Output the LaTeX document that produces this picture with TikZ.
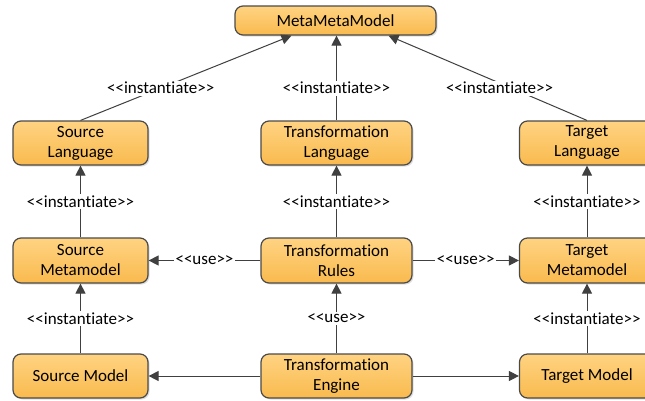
\documentclass[tikz,border=0pt]{standalone}
\usepackage{fontspec}
\setmainfont{Carlito}[Ligatures={TeXOff,NoCommon}]
\usetikzlibrary{arrows.meta,shadows}
\definecolor{boxline}{HTML}{4A4A4A}
\definecolor{boxtop}{HTML}{FFD382}
\definecolor{boxbot}{HTML}{F9BA4E}
\definecolor{lineclr}{HTML}{404040}
\begin{document}
\begin{tikzpicture}[x=1pt,y=-1pt,
  box/.style={draw=boxline, line width=1.2pt, rounded corners=8pt,
    top color=boxtop, bottom color=boxbot, align=center,
    font=\fontsize{17}{20}\selectfont, inner sep=0pt,
    drop shadow={shadow xshift=1.5pt, shadow yshift=-1.5pt, opacity=0.25}},
  conn/.style={draw=lineclr, line width=1pt, -{Triangle[length=10pt,width=10pt]}},
  lab/.style={fill=white, font=\fontsize{17}{19}\selectfont, inner sep=1.5pt}]
\clip (0,0) rectangle (645,400);
\fill[white] (0,0) rectangle (645,400);
\node[box, minimum width=201pt, minimum height=29pt] (mmm) at (335.5,20.5) {MetaMetaModel};
\node[box, minimum width=135pt, minimum height=44pt] (sl) at (80.5,143) {Source\\Language};
\node[box, minimum width=151pt, minimum height=44pt] (tl) at (336.5,143) {Transformation\\Language};
\node[box, minimum width=135pt, minimum height=44pt] (gl) at (587,143) {Target\\Language};
\node[box, minimum width=135pt, minimum height=45pt] (sm) at (80.5,260.5) {Source\\Metamodel};
\node[box, minimum width=151pt, minimum height=45pt] (tr) at (336.5,260.5) {Transformation\\Rules};
\node[box, minimum width=135pt, minimum height=45pt] (gm) at (587,260.5) {Target\\Metamodel};
\node[box, minimum width=135pt, minimum height=44pt] (so) at (80.5,376) {Source Model};
\node[box, minimum width=151pt, minimum height=44pt] (te) at (336.5,376) {Transformation\\Engine};
\node[box, minimum width=135pt, minimum height=44pt] (go) at (587,376) {Target Model};
\coordinate (mL) at ([xshift=-44pt]mmm.south);
\coordinate (mR) at ([xshift=53pt]mmm.south);
\draw[conn] (sl.north) -- node[lab,pos=.38]{<<instantiate>>} (mL);
\draw[conn] (tl.north) -- node[lab,pos=.38]{<<instantiate>>} (tl.north |- mmm.south);
\draw[conn] (gl.north) -- node[lab,pos=.38,xshift=-12pt]{<<instantiate>>} (mR);
\draw[conn] (sm) -- node[lab]{<<instantiate>>} (sl);
\draw[conn] (tr) -- node[lab]{<<instantiate>>} (tl);
\draw[conn] (gm) -- node[lab]{<<instantiate>>} (gl);
\draw[conn] (so) -- node[lab]{<<instantiate>>} (sm);
\draw[conn] (te) -- node[lab]{<<use>>} (tr);
\draw[conn] (go) -- node[lab]{<<instantiate>>} (gm);
\draw[conn] (tr) -- node[lab]{<<use>>} (sm);
\draw[conn] (tr) -- node[lab]{<<use>>} (gm);
\draw[conn] (te) -- (so);
\draw[conn] (te) -- (go);
\end{tikzpicture}
\end{document}
